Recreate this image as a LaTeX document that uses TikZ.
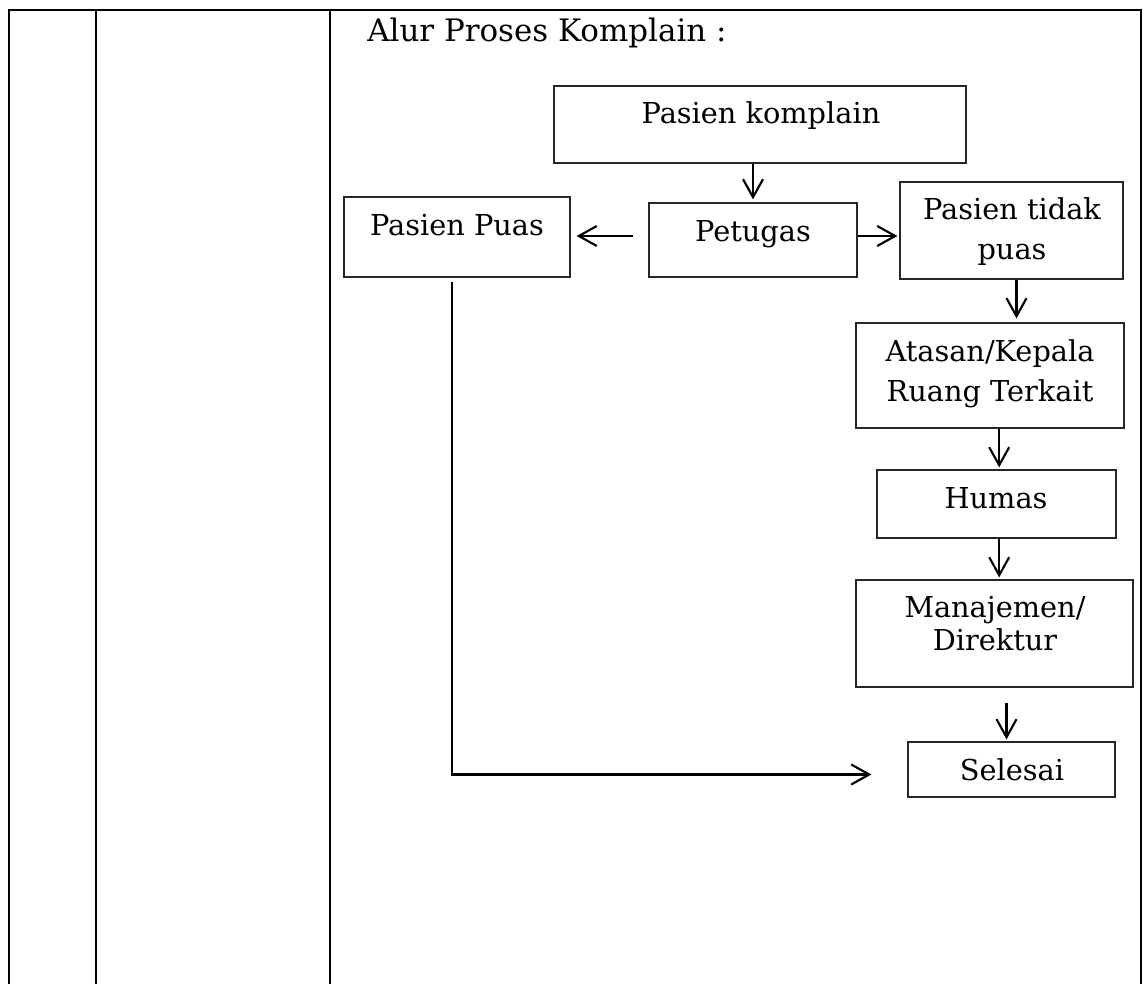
\documentclass[tikz,border=0pt]{standalone}
\usepackage{fontspec}
\setmainfont{DejaVu Serif}
\usetikzlibrary{arrows.meta,fit}
\begin{document}
\begin{tikzpicture}[x=0.75pt,y=-0.75pt,
  rule/.style={line width=1.5pt,black},
  box/.style={draw=black!85,line width=0.9pt,inner sep=0pt},
  lbl/.style={anchor=base,inner sep=0pt,font=\fontsize{21.6}{30}\selectfont},
  arr/.style={line width=1.6pt,-{Straight Barb[length=13.5pt,width=15pt,line width=1.6pt]}},
]
\useasboundingbox (0,0) rectangle (1143,984);

% table cell borders
\draw[rule] (9,984) -- (9,10) -- (1141,10) -- (1141,984);
\draw[rule] (96,10) -- (96,984);
\draw[rule] (330,10) -- (330,984);

% heading
\node[anchor=base west,inner sep=0pt,font=\fontsize{23.2}{28}\selectfont] (title) at (367,42) {Alur Proses Komplain :};

% boxes
\node[box,fit={(554,86) (966,163)}] (pk) {};
\node[box,fit={(344,197) (570,277)}] (pp) {};
\node[box,fit={(649,203) (857,277)}] (pt) {};
\node[box,fit={(900,182) (1123,279)}] (ptp) {};
\node[box,fit={(856,323) (1124,428)}] (ak) {};
\node[box,fit={(877,470) (1116,538)}] (hm) {};
\node[box,fit={(856,580) (1133,687)}] (mj) {};
\node[box,fit={(908,742) (1115,797)}] (sl) {};

% box texts
\node[lbl] (pkt) at (761,124) {Pasien komplain};
\node[lbl] (ppt) at (457,236) {Pasien Puas};
\node[lbl] (ptt) at (753,242) {Petugas};
\node[lbl] (ptpt) at (1012,220) {\begin{tabular}[t]{@{}c@{}}Pasien tidak\\puas\end{tabular}};
\node[lbl] (akt) at (990,362) {\begin{tabular}[t]{@{}c@{}}Atasan/Kepala\\Ruang Terkait\end{tabular}};
\node[lbl] (hmt) at (996,508) {Humas};
\node[lbl,font=\fontsize{21.6}{25}\selectfont] (mjt) at (995,617) {\begin{tabular}[t]{@{}c@{}}Manajemen/\\Direktur\end{tabular}};
\node[lbl] (slt) at (1012,780) {Selesai};

% connectors
\draw[arr,shorten >=2.25pt] (pk.south -| pt.north) -- (pt.north);
\draw[arr,shorten <=11.25pt,shorten >=4.5pt] ([yshift=3pt]pt.west) -- ([yshift=3pt]pt.west -| pp.east);
\draw[arr,shorten >=1.5pt] ([yshift=3pt]pt.east) -- ([yshift=3pt]pt.east -| ptp.west);
\draw[arr,shorten >=3pt] ([xshift=3.75pt]ptp.south) -- ([xshift=3.75pt]ptp.south |- ak.north);
\draw[arr,shorten >=1.5pt] ([xshift=2pt]ak.south -| hm.north) -- ([xshift=2pt]hm.north);
\draw[arr,shorten >=1.5pt] ([xshift=2pt]hm.south) -- ([xshift=2pt]hm.south |- mj.north);
\draw[arr,shorten <=11.25pt,shorten >=1.5pt] ([xshift=-3.75pt]sl.north |- mj.south) -- ([xshift=-3.75pt]sl.north);
\draw[arr,shorten <=3pt,shorten >=27pt] ([xshift=-3.75pt]pp.south) |- ([yshift=-3.75pt]sl.west);
\end{tikzpicture}
\end{document}
